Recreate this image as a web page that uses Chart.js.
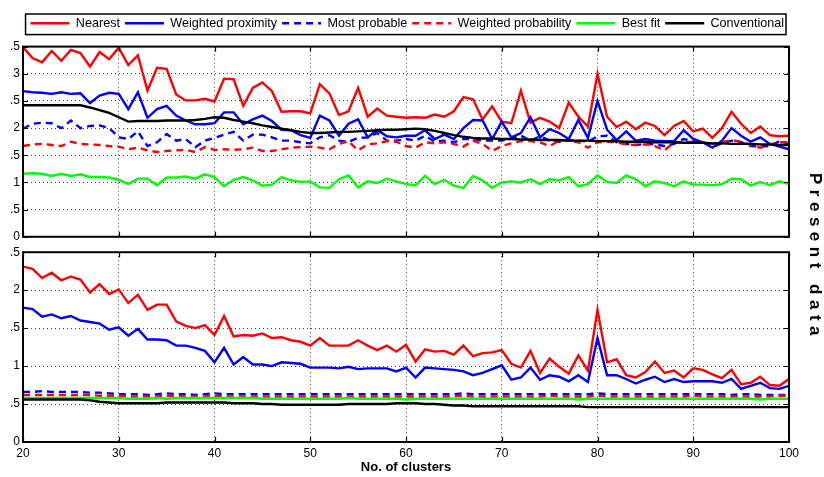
<!DOCTYPE html>
<html>
<head>
<meta charset="utf-8">
<script src="https://cdn.jsdelivr.net/npm/chart.js@4/dist/chart.umd.min.js"></script>
<style>
    body { margin: 0; background: #fff; }
    #wrap { position: absolute; left: 10px; top: 0; width: 814px; height: 477px; overflow: hidden; }
    .pane { position: absolute; left: -10px; width: 824px; }
    #side {
        position: absolute; left: 815px; top: 257px;
        transform: translate(-50%, -50%) rotate(90deg);
        font: bold 17px "Liberation Sans", Arial, sans-serif;
        letter-spacing: 5.5px; white-space: nowrap; color: #000;
    }
</style>
</head>
<body>
<div id="wrap">
    <div class="pane" style="top:0;height:247px"><canvas id="topChart" width="824" height="247"></canvas></div>
    <div class="pane" style="top:242px;height:235px"><canvas id="botChart" width="824" height="235"></canvas></div>
</div>
<div id="side">Present data</div>
<script>
const clusters = [20,21,22,23,24,25,26,27,28,29,30,31,32,33,34,35,36,37,38,39,40,41,42,43,44,45,46,47,48,49,50,
    51,52,53,54,55,56,57,58,59,60,61,62,63,64,65,66,67,68,69,70,71,72,73,74,75,76,77,78,79,80,
    81,82,83,84,85,86,87,88,89,90,91,92,93,94,95,96,97,98,99,100];
const seriesNames = ["Nearest", "Weighted proximity", "Most probable", "Weighted probability", "Best fit", "Conventional"];

// top panel
const nearTop = [3.49,3.29,3.21,3.42,3.24,3.44,3.38,3.13,3.40,3.27,
    3.48,3.16,3.34,2.69,3.11,3.09,2.62,2.51,2.51,2.54,
    2.49,2.91,2.90,2.41,2.74,2.84,2.68,2.30,2.31,2.31,
    2.27,2.81,2.64,2.24,2.31,2.74,2.21,2.36,2.23,2.21,
    2.19,2.20,2.19,2.25,2.21,2.31,2.57,2.53,2.16,2.40,
    2.12,2.09,2.69,2.10,2.19,2.12,2.00,2.47,2.21,2.03,
    3.00,2.21,2.02,2.12,1.98,2.10,2.04,1.87,2.04,2.13,
    1.94,1.99,1.82,2.00,2.30,2.08,1.91,2.03,1.87,1.85,1.86];
const wproxTop = [2.68,2.66,2.65,2.63,2.66,2.63,2.64,2.46,2.60,2.65,
    2.63,2.35,2.66,2.19,2.35,2.41,2.23,2.14,2.07,2.07,
    2.09,2.29,2.29,2.07,2.16,2.23,2.13,1.97,1.96,1.87,
    1.82,2.23,2.14,1.86,2.08,2.16,1.83,1.97,1.85,1.83,
    1.86,1.86,1.96,1.80,1.88,1.80,2.00,2.15,2.14,1.80,
    2.12,1.83,1.91,2.20,1.83,1.98,1.91,1.80,2.15,1.82,
    2.50,1.97,1.78,1.94,1.77,1.80,1.77,1.76,1.76,1.96,
    1.80,1.74,1.64,1.77,2.00,1.86,1.75,1.83,1.71,1.66,1.61];
const mprobTop = [1.99,2.08,2.10,2.09,2.00,2.14,2.00,2.04,2.05,2.00,
    1.83,1.80,1.94,1.67,1.74,1.89,1.77,1.80,1.65,1.77,
    1.82,1.88,1.93,1.77,1.88,1.88,1.83,1.77,1.77,1.74,
    1.72,1.83,1.87,1.77,1.75,1.82,1.83,1.91,1.77,1.77,
    1.80,1.77,1.86,1.75,1.77,1.74,1.80,1.80,1.77,1.77,
    1.77,1.81,1.86,1.77,1.85,1.77,1.75,1.78,1.77,1.75,
    1.85,1.86,1.74,1.71,1.69,1.71,1.70,1.67,1.71,1.80,
    1.76,1.74,1.65,1.72,1.77,1.74,1.67,1.66,1.67,1.76,1.71];
const wprobTop = [1.67,1.70,1.71,1.69,1.67,1.75,1.71,1.70,1.69,1.67,
    1.66,1.61,1.64,1.59,1.56,1.58,1.59,1.60,1.56,1.65,
    1.60,1.61,1.60,1.61,1.64,1.58,1.58,1.61,1.64,1.65,
    1.66,1.64,1.61,1.71,1.76,1.59,1.70,1.72,1.76,1.75,
    1.67,1.64,1.74,1.72,1.74,1.71,1.66,1.77,1.71,1.58,
    1.67,1.72,1.76,1.76,1.74,1.67,1.77,1.77,1.74,1.64,
    1.74,1.75,1.74,1.70,1.69,1.70,1.67,1.59,1.74,1.74,
    1.75,1.74,1.71,1.74,1.78,1.75,1.69,1.64,1.70,1.74,1.74];
const bestTop = [1.16,1.17,1.16,1.12,1.16,1.12,1.15,1.10,1.10,1.09,
    1.05,0.97,1.07,1.07,0.95,1.09,1.09,1.11,1.07,1.15,
    1.10,0.93,1.05,1.10,1.04,0.94,0.96,1.10,1.04,1.01,
    1.02,0.91,0.90,1.06,1.13,0.91,1.02,0.99,1.07,1.02,
    0.97,0.95,1.12,0.97,1.05,0.94,0.90,1.12,1.04,0.90,
    1.00,1.02,1.00,1.06,0.97,1.06,1.04,1.10,0.93,0.97,
    1.13,1.01,0.99,1.13,1.06,0.93,1.02,0.99,0.93,1.02,
    0.96,0.96,0.95,0.97,1.07,1.06,0.94,1.01,0.95,1.02,0.97];
const convTop = [2.42,2.42,2.42,2.42,2.42,2.42,2.42,2.38,2.33,2.28,
    2.20,2.12,2.13,2.13,2.13,2.14,2.14,2.14,2.15,2.17,
    2.20,2.19,2.15,2.12,2.09,2.05,2.02,1.99,1.96,1.93,
    1.91,1.91,1.92,1.93,1.93,1.94,1.95,1.96,1.97,1.97,
    1.98,1.99,1.98,1.95,1.91,1.87,1.84,1.82,1.81,1.81,
    1.80,1.80,1.79,1.79,1.78,1.78,1.78,1.77,1.77,1.77,
    1.76,1.76,1.76,1.75,1.75,1.75,1.74,1.74,1.74,1.73,
    1.73,1.73,1.72,1.72,1.71,1.71,1.71,1.70,1.70,1.69,1.69];

// bottom panel
const nearBot = [2.31,2.28,2.16,2.23,2.13,2.18,2.14,1.97,2.08,1.95,
    2.01,1.83,1.94,1.74,1.81,1.81,1.59,1.53,1.50,1.54,
    1.41,1.66,1.39,1.41,1.40,1.43,1.37,1.38,1.34,1.32,
    1.27,1.37,1.27,1.27,1.27,1.34,1.27,1.21,1.27,1.19,
    1.28,1.06,1.22,1.19,1.20,1.15,1.27,1.13,1.17,1.18,
    1.21,1.03,0.98,1.20,0.91,1.10,0.99,0.90,1.14,0.94,
    1.74,1.05,1.09,0.88,0.85,0.92,1.06,0.91,0.94,0.85,
    0.97,0.95,0.89,0.84,0.95,0.76,0.78,0.86,0.75,0.74,0.83];
const wproxBot = [1.77,1.75,1.65,1.68,1.63,1.66,1.60,1.58,1.56,1.48,
    1.51,1.40,1.49,1.35,1.35,1.34,1.27,1.27,1.24,1.20,
    1.05,1.24,1.02,1.12,1.02,1.02,1.00,1.05,1.04,1.03,
    0.98,0.98,0.98,0.97,0.99,0.96,0.97,0.97,0.97,0.93,
    0.98,0.85,0.98,0.97,0.96,0.95,0.93,0.88,0.91,0.96,
    1.01,0.82,0.85,0.98,0.82,0.88,0.86,0.80,0.88,0.79,
    1.37,0.88,0.88,0.83,0.77,0.82,0.86,0.79,0.83,0.79,
    0.80,0.80,0.80,0.78,0.83,0.70,0.74,0.78,0.71,0.70,0.74];
const mprobBot = [0.66,0.66,0.67,0.66,0.66,0.66,0.66,0.65,0.65,0.64,
    0.63,0.63,0.63,0.62,0.63,0.64,0.63,0.63,0.62,0.63,
    0.64,0.63,0.63,0.63,0.63,0.63,0.63,0.63,0.63,0.63,
    0.63,0.63,0.63,0.63,0.63,0.63,0.63,0.63,0.63,0.63,
    0.63,0.63,0.63,0.63,0.63,0.63,0.64,0.63,0.63,0.63,
    0.63,0.63,0.63,0.63,0.63,0.63,0.63,0.63,0.63,0.63,
    0.64,0.63,0.63,0.63,0.63,0.63,0.63,0.63,0.63,0.63,
    0.63,0.63,0.63,0.63,0.62,0.63,0.63,0.62,0.62,0.62,0.62];
const wprobBot = [0.62,0.62,0.62,0.62,0.62,0.62,0.62,0.62,0.61,0.61,
    0.61,0.60,0.60,0.60,0.60,0.61,0.61,0.60,0.60,0.60,
    0.61,0.60,0.60,0.60,0.60,0.60,0.60,0.60,0.60,0.60,
    0.60,0.60,0.60,0.60,0.60,0.60,0.60,0.60,0.60,0.60,
    0.60,0.60,0.60,0.60,0.60,0.60,0.61,0.60,0.60,0.60,
    0.60,0.60,0.60,0.60,0.60,0.61,0.60,0.60,0.60,0.60,
    0.61,0.60,0.60,0.60,0.60,0.60,0.60,0.60,0.60,0.60,
    0.61,0.60,0.60,0.60,0.60,0.60,0.60,0.60,0.60,0.61,0.61];
const bestBot = [0.58,0.58,0.58,0.58,0.58,0.58,0.58,0.58,0.58,0.58,
    0.58,0.57,0.57,0.57,0.58,0.57,0.58,0.58,0.58,0.58,
    0.58,0.58,0.58,0.58,0.58,0.57,0.57,0.57,0.57,0.57,
    0.57,0.57,0.57,0.57,0.58,0.57,0.57,0.57,0.57,0.57,
    0.56,0.57,0.57,0.57,0.57,0.57,0.57,0.57,0.57,0.57,
    0.57,0.57,0.57,0.57,0.57,0.57,0.57,0.57,0.56,0.57,
    0.57,0.57,0.57,0.57,0.57,0.57,0.57,0.57,0.57,0.57,
    0.57,0.57,0.57,0.57,0.57,0.57,0.57,0.56,0.57,0.57,0.57];
const convBot = [0.56,0.56,0.56,0.56,0.56,0.56,0.56,0.55,0.53,0.52,
    0.51,0.51,0.51,0.51,0.51,0.52,0.52,0.52,0.52,0.52,
    0.52,0.52,0.51,0.51,0.51,0.50,0.50,0.49,0.49,0.49,
    0.49,0.49,0.49,0.49,0.50,0.50,0.50,0.50,0.50,0.51,
    0.51,0.51,0.50,0.50,0.49,0.48,0.48,0.47,0.47,0.47,
    0.47,0.47,0.47,0.47,0.47,0.47,0.47,0.47,0.47,0.46,
    0.46,0.46,0.46,0.46,0.46,0.46,0.46,0.46,0.46,0.46,
    0.46,0.46,0.46,0.46,0.46,0.46,0.46,0.46,0.46,0.46,0.46];

const xTicks = [20, 30, 40, 50, 60, 70, 80, 90, 100];
const topYMax = 3.5;
const botYMax = 2.5;

const FONT = "'Liberation Sans', Arial, sans-serif";
const styles = [
    {color: "#ff0000", dash: []},
    {color: "#0000ff", dash: []},
    {color: "#0000ff", dash: [7, 5]},
    {color: "#ff0000", dash: [7, 5]},
    {color: "#00ff00", dash: []},
    {color: "#000000", dash: []}
];

function makeSets(lists) {
    return lists.map((vals, i) => ({
        label: seriesNames[i],
        data: clusters.map((c, k) => ({x: c, y: vals[k]})),
        borderColor: styles[i].color,
        backgroundColor: styles[i].color,
        borderDash: styles[i].dash,
        borderWidth: 2.4,
        pointRadius: 0,
        tension: 0,
        fill: false,
        xAxisID: "x",
        order: lists.length - i
    }));
}

// matlab style box with inward ticks
const framePlugin = {
    id: "frame",
    afterDatasetsDraw(chart) {
        const {ctx, chartArea: a, scales} = chart;
        ctx.save();
        ctx.strokeStyle = "#000";
        ctx.lineWidth = 1.2;
        ctx.beginPath();
        scales.x.ticks.forEach(t => {
            const px = Math.round(scales.x.getPixelForValue(t.value)) + 0.5;
            ctx.moveTo(px, a.bottom); ctx.lineTo(px, a.bottom - 5);
            ctx.moveTo(px, a.top); ctx.lineTo(px, a.top + 5);
        });
        scales.y.ticks.forEach(t => {
            const py = Math.round(scales.y.getPixelForValue(t.value)) + 0.5;
            ctx.moveTo(a.left, py); ctx.lineTo(a.left + 5, py);
            ctx.moveTo(a.right, py); ctx.lineTo(a.right - 5, py);
        });
        ctx.stroke();
        ctx.lineWidth = 2;
        ctx.strokeRect(a.left, a.top, a.right - a.left, a.bottom - a.top);
        ctx.restore();
    }
};

const legendBoxPlugin = {
    id: "legendBox",
    afterDraw(chart) {
        const hb = chart.legend && chart.legend.legendHitBoxes;
        if (!hb || !hb.length) return;
        const first = hb[0], last = hb[hb.length - 1];
        const {ctx} = chart;
        ctx.save();
        ctx.strokeStyle = "#000";
        ctx.lineWidth = 1.5;
        ctx.strokeRect(first.left - 5, first.top - 3, last.left + last.width + 7 - first.left, first.height + 8);
        ctx.restore();
    }
};

function xScale(showLabels) {
    return {
        type: "linear",
        min: 20, max: 100,
        afterBuildTicks: s => { s.ticks = xTicks.map(v => ({value: v})); },
        grid: {color: "rgba(0,0,0,0.75)", lineWidth: 1, drawTicks: false},
        border: {display: false, dash: [1, 3]},
        ticks: {display: showLabels, color: "#000", padding: 4, font: {family: FONT, size: 12}},
        title: {display: showLabels, text: "No. of clusters", color: "#000",
            font: {family: FONT, size: 13, weight: "bold"}, padding: {top: 0, bottom: 2}},
        afterFit: s => { s.height = showLabels ? 35 : 0; }
    };
}

function yScale(max) {
    return {
        min: 0, max: max,
        ticks: {stepSize: 0.5, color: "#000", padding: 3, font: {family: FONT, size: 12},
            callback: v => String(v)},
        grid: {color: "rgba(0,0,0,0.75)", lineWidth: 1, drawTicks: false},
        border: {display: false, dash: [1, 3]},
        afterFit: s => { s.width = 23; }
    };
}

function legendLabels(chart) {
    const items = Chart.defaults.plugins.legend.labels.generateLabels(chart);
    items.forEach(it => {
        const ds = chart.data.datasets[it.datasetIndex];
        it.lineDash = ds.borderDash;
        it.lineWidth = ds.borderWidth;
        it.strokeStyle = ds.borderColor;
    });
    return items;
}

new Chart(document.getElementById("topChart"), {
    type: "line",
    data: {datasets: makeSets([nearTop, wproxTop, mprobTop, wprobTop, bestTop, convTop])},
    options: {
        responsive: false,
        animation: false,
        layout: {padding: {top: 12, right: 35, bottom: 8, left: 0}},
        scales: {
            x: xScale(false),
            xPad: {
                type: "linear", position: "top", display: true,
                grid: {display: false}, border: {display: false}, ticks: {display: false},
                afterFit: s => { s.height = 7; }
            },
            y: yScale(topYMax)
        },
        plugins: {
            legend: {
                position: "top",
                align: "end",
                labels: {
                    usePointStyle: true, pointStyle: "line", pointStyleWidth: 39,
                    padding: 5, color: "#000", font: {family: FONT, size: 12.6},
                    sort: (a, b) => a.datasetIndex - b.datasetIndex,
                    generateLabels: legendLabels
                }
            },
            tooltip: {enabled: false}
        }
    },
    plugins: [framePlugin, legendBoxPlugin]
});

new Chart(document.getElementById("botChart"), {
    type: "line",
    data: {datasets: makeSets([nearBot, wproxBot, mprobBot, wprobBot, bestBot, convBot])},
    options: {
        responsive: false,
        animation: false,
        layout: {padding: {top: 7, right: 35, bottom: 0, left: 0}},
        scales: {
            x: xScale(true),
            y: yScale(botYMax)
        },
        plugins: {legend: {display: false}, tooltip: {enabled: false}}
    },
    plugins: [framePlugin]
});
</script>
</body>
</html>
